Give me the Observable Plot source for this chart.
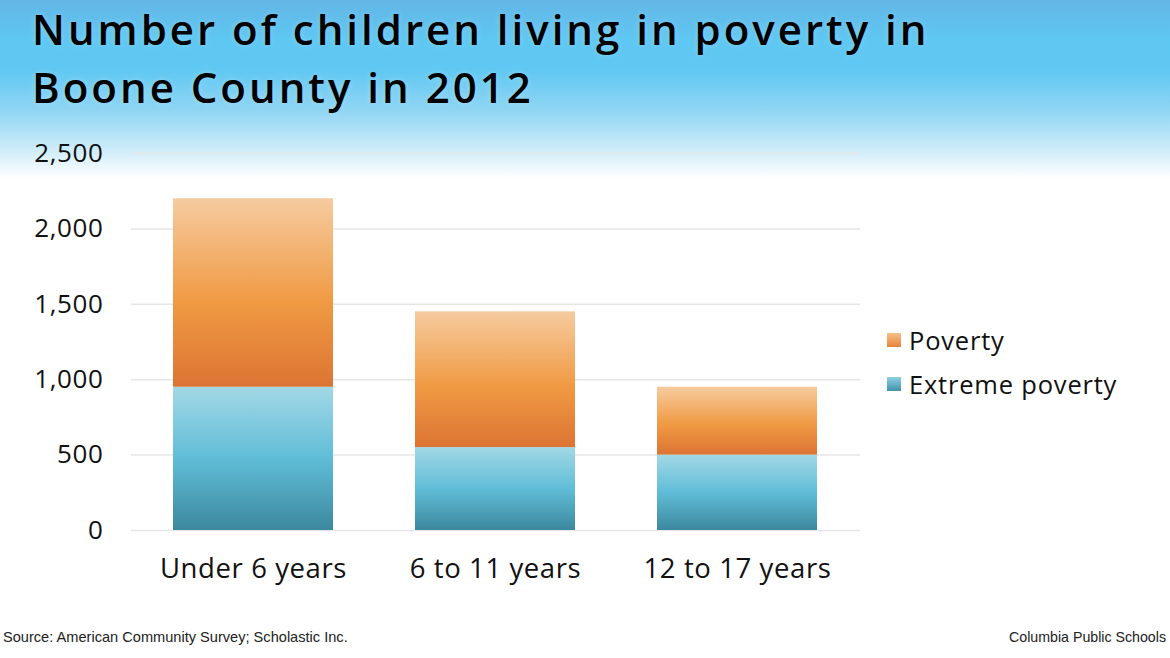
<!DOCTYPE html>
<html>
<head>
<meta charset="utf-8">
<script src="https://cdn.jsdelivr.net/npm/d3@7"></script>
<script src="https://cdn.jsdelivr.net/npm/@observablehq/plot@0.6"></script>
<style>
  html, body { margin: 0; padding: 0; }
  body { width: 1170px; height: 658px; overflow: hidden; background: #fff; }
  #page {
    position: relative; width: 1170px; height: 658px;
    background: linear-gradient(to bottom, #63b6e6 0px, #5ec7f2 40px, #60c8f2 70px, #8fd5f3 110px, #c6e9f8 145px, #ffffff 178px, #ffffff 658px);
    font-family: "Open Sans", "DejaVu Sans", sans-serif;
  }
  #title {
    position: absolute; left: 32px; top: 0px; margin: 0;
    font-family: "Open Sans", "DejaVu Sans", sans-serif;
    font-weight: 600; font-size: 42px; line-height: 58px; color: #000;
    letter-spacing: 3px; white-space: nowrap;
    text-shadow: 0 0 6px rgba(255,255,255,0.25);
  }
  #chart { position: absolute; left: 0; top: 0; }
  #legend { position: absolute; left: 887px; top: 318px; font-size: 25.5px; letter-spacing: 0.8px; color: #111; }
  #legend .item { display: flex; align-items: center; height: 44px; }
  #legend .sw { width: 14px; height: 14px; margin-right: 8px; }
  #source { position: absolute; left: 3px; top: 629px; font-family: "Liberation Sans", Arial, sans-serif; font-size: 14.6px; color: #222; }
  #brand { position: absolute; right: 4px; top: 629px; font-family: "Liberation Sans", Arial, sans-serif; font-size: 14.2px; color: #222; }
</style>
</head>
<body>
<div id="page">
  <div id="chart"></div>
  <div id="title">Number of children living in poverty in<br>Boone County in 2012</div>
  <div id="legend"></div>
  <div id="source">Source: American Community Survey; Scholastic Inc.</div>
  <div id="brand">Columbia Public Schools</div>
</div>
<script>
const categories = ["Under 6 years", "6 to 11 years", "12 to 17 years"];
const seriesNames = ["Extreme poverty", "Poverty"];
const extremePoverty = [950, 550, 500];
const poverty = [1250, 900, 450];
const yTicks = [0, 500, 1000, 1500, 2000, 2500];

const data = [];
categories.forEach((c, i) => {
  data.push({category: c, series: "Extreme poverty", value: extremePoverty[i]});
  data.push({category: c, series: "Poverty", value: poverty[i]});
});

const plot = Plot.plot({
  width: 1170,
  height: 658,
  marginTop: 153,
  marginBottom: 128,
  marginLeft: 131,
  marginRight: 310,
  style: {background: "transparent", fontFamily: "'Open Sans', 'DejaVu Sans', sans-serif", overflow: "visible"},
  x: {domain: categories, paddingInner: 0.337, paddingOuter: 0.17, label: null},
  y: {domain: [0, 2500], label: null},
  color: {domain: seriesNames, range: ["url(#gradBlue)", "url(#gradOrange)"]},
  marks: [
    Plot.ruleY(yTicks, {stroke: "#e6e6e6", strokeWidth: 1.5}),
    Plot.barY(data, Plot.stackY({x: "category", y: "value", fill: "series", order: seriesNames})),
    Plot.axisY({ticks: yTicks, tickFormat: d3.format(","), tickSize: 0, tickPadding: 28, fontSize: 26, label: null, fill: "#111"}),
    Plot.axisX({tickSize: 0, tickPadding: 28, fontSize: 27.5, label: null, fill: "#111"})
  ]
});

const ns = "http://www.w3.org/2000/svg";
const defs = document.createElementNS(ns, "defs");
function grad(id, stops) {
  const g = document.createElementNS(ns, "linearGradient");
  g.setAttribute("id", id);
  g.setAttribute("x1", "0"); g.setAttribute("y1", "0");
  g.setAttribute("x2", "0"); g.setAttribute("y2", "1");
  stops.forEach(([o, c]) => {
    const s = document.createElementNS(ns, "stop");
    s.setAttribute("offset", o); s.setAttribute("stop-color", c);
    g.appendChild(s);
  });
  defs.appendChild(g);
}
grad("gradOrange", [["0", "#f6cb9f"], ["0.55", "#f09a43"], ["1", "#dc7433"]]);
grad("gradBlue", [["0", "#a2d8e6"], ["0.5", "#60bdd7"], ["1", "#3c889e"]]);
plot.insertBefore(defs, plot.firstChild);
plot.querySelectorAll("g[aria-label='x-axis tick label'] text, g[aria-label='y-axis tick label'] text").forEach(t => t.setAttribute("letter-spacing", "0.6"));
document.getElementById("chart").appendChild(plot);

const legendItems = [
  {name: "Poverty", color: "linear-gradient(#f6c08a, #e8843a)"},
  {name: "Extreme poverty", color: "linear-gradient(#8fd0e2, #3f93ab)"}
];
const legend = document.getElementById("legend");
legendItems.forEach(it => {
  const d = document.createElement("div");
  d.className = "item";
  const sw = document.createElement("span");
  sw.className = "sw"; sw.style.background = it.color;
  const t = document.createElement("span");
  t.textContent = it.name;
  d.appendChild(sw); d.appendChild(t);
  legend.appendChild(d);
});
</script>
</body>
</html>
